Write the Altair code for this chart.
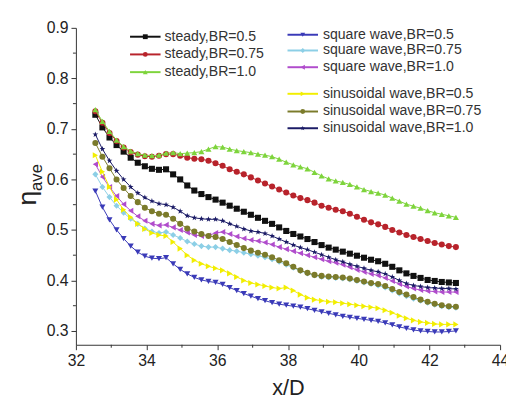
import altair as alt
import pandas as pd

# ---------------- data ----------------
X = [32.55, 32.75, 32.95, 33.15, 33.35, 33.55, 33.75, 33.95, 34.15, 34.35,
     34.55, 34.75, 34.95, 35.15, 35.35, 35.55, 35.75, 35.95, 36.15, 36.35,
     36.55, 36.75, 36.95, 37.15, 37.35, 37.55, 37.75, 37.95, 38.15, 38.35,
     38.55, 38.75, 38.95, 39.15, 39.35, 39.55, 39.75, 39.95, 40.15, 40.35,
     40.55, 40.75, 40.95, 41.15, 41.35, 41.55, 41.75, 41.95, 42.15, 42.35,
     42.55, 42.75]

steady05 = [0.728, 0.703, 0.683, 0.668, 0.655, 0.643, 0.633, 0.626, 0.621, 0.619,
            0.620, 0.610, 0.600, 0.588, 0.578, 0.571, 0.565, 0.560, 0.554, 0.548,
            0.542, 0.536, 0.530, 0.524, 0.518, 0.512, 0.505, 0.498, 0.492, 0.487,
            0.482, 0.476, 0.470, 0.465, 0.461, 0.457, 0.453, 0.449, 0.445, 0.441,
            0.438, 0.433, 0.427, 0.420, 0.414, 0.409, 0.405, 0.401, 0.399, 0.397,
            0.396, 0.395]
steady075 = [0.735, 0.712, 0.692, 0.676, 0.663, 0.654, 0.649, 0.646, 0.645, 0.647,
             0.650, 0.650, 0.647, 0.643, 0.641, 0.640, 0.637, 0.632, 0.627, 0.620,
             0.615, 0.610, 0.604, 0.598, 0.592, 0.586, 0.580, 0.574, 0.568, 0.563,
             0.559, 0.554, 0.548, 0.544, 0.540, 0.537, 0.532, 0.526, 0.520, 0.515,
             0.511, 0.506, 0.500, 0.495, 0.490, 0.486, 0.482, 0.478, 0.474, 0.471,
             0.468, 0.466]
steady10 = [0.738, 0.715, 0.695, 0.678, 0.665, 0.656, 0.651, 0.648, 0.647, 0.648,
            0.652, 0.653, 0.651, 0.652, 0.653, 0.655, 0.660, 0.665, 0.664, 0.660,
            0.657, 0.655, 0.653, 0.650, 0.648, 0.645, 0.640, 0.634, 0.629, 0.625,
            0.621, 0.614, 0.607, 0.601, 0.597, 0.594, 0.590, 0.585, 0.580, 0.576,
            0.573, 0.569, 0.563, 0.557, 0.551, 0.547, 0.543, 0.538, 0.534, 0.531,
            0.528, 0.525]
square05 = [0.577, 0.545, 0.520, 0.500, 0.483, 0.468, 0.456, 0.448, 0.444, 0.443,
            0.445, 0.433, 0.422, 0.413, 0.406, 0.401, 0.398, 0.396, 0.392, 0.386,
            0.380, 0.374, 0.369, 0.364, 0.360, 0.356, 0.353, 0.351, 0.349, 0.347,
            0.344, 0.341, 0.338, 0.335, 0.332, 0.329, 0.327, 0.325, 0.323, 0.321,
            0.319, 0.316, 0.312, 0.308, 0.305, 0.302, 0.300, 0.299, 0.298, 0.298,
            0.299, 0.300]
square075 = [0.610, 0.585, 0.565, 0.548, 0.534, 0.522, 0.512, 0.503, 0.497, 0.494,
             0.496, 0.490, 0.484, 0.477, 0.472, 0.468, 0.466, 0.466, 0.463, 0.460,
             0.458, 0.455, 0.452, 0.449, 0.446, 0.442, 0.437, 0.431, 0.425, 0.419,
             0.414, 0.410, 0.407, 0.406, 0.405, 0.404, 0.402, 0.399, 0.396, 0.393,
             0.390, 0.386, 0.380, 0.374, 0.369, 0.364, 0.360, 0.356, 0.352, 0.349,
             0.347, 0.346]
square10 = [0.630, 0.605, 0.585, 0.567, 0.551, 0.538, 0.527, 0.518, 0.512, 0.509,
            0.510, 0.505, 0.500, 0.495, 0.490, 0.488, 0.489, 0.494, 0.496, 0.492,
            0.487, 0.483, 0.480, 0.478, 0.475, 0.471, 0.466, 0.462, 0.458, 0.454,
            0.450, 0.446, 0.442, 0.438, 0.435, 0.431, 0.426, 0.421, 0.417, 0.413,
            0.410, 0.405, 0.399, 0.393, 0.388, 0.384, 0.381, 0.379, 0.378, 0.377,
            0.377, 0.377]
sin05 = [0.648, 0.615, 0.585, 0.560, 0.540, 0.525, 0.512, 0.502, 0.494, 0.490,
         0.488, 0.476, 0.463, 0.450, 0.440, 0.433, 0.428, 0.424, 0.420, 0.414,
         0.407, 0.400, 0.395, 0.392, 0.389, 0.386, 0.384, 0.386, 0.380, 0.372,
         0.366, 0.362, 0.360, 0.358, 0.357, 0.355, 0.353, 0.351, 0.349, 0.347,
         0.345, 0.341, 0.336, 0.330, 0.325, 0.321, 0.318, 0.316, 0.314, 0.313,
         0.313, 0.313]
sin075 = [0.672, 0.645, 0.622, 0.600, 0.583, 0.567, 0.555, 0.544, 0.537, 0.532,
          0.530, 0.522, 0.512, 0.503, 0.497, 0.492, 0.488, 0.486, 0.482, 0.476,
          0.470, 0.464, 0.459, 0.455, 0.451, 0.446, 0.440, 0.434, 0.427, 0.420,
          0.415, 0.411, 0.409, 0.408, 0.407, 0.406, 0.404, 0.401, 0.398, 0.395,
          0.393, 0.389, 0.383, 0.377, 0.372, 0.367, 0.362, 0.358, 0.354, 0.351,
          0.349, 0.348]
sin10 = [0.689, 0.660, 0.637, 0.617, 0.600, 0.585, 0.573, 0.564, 0.557, 0.552,
         0.550, 0.545, 0.537, 0.528, 0.524, 0.522, 0.521, 0.521, 0.518, 0.512,
         0.507, 0.502, 0.498, 0.496, 0.493, 0.488, 0.482, 0.476, 0.470, 0.465,
         0.461, 0.456, 0.451, 0.446, 0.441, 0.437, 0.432, 0.428, 0.424, 0.420,
         0.417, 0.413, 0.407, 0.400, 0.394, 0.390, 0.388, 0.386, 0.385, 0.384,
         0.384, 0.383]

labels = ["steady,BR=0.5", "steady,BR=0.75", "steady,BR=1.0",
          "square wave,BR=0.5", "square wave,BR=0.75", "square wave,BR=1.0",
          "sinusoidal wave,BR=0.5", "sinusoidal wave,BR=0.75", "sinusoidal wave,BR=1.0"]
values = [steady05, steady075, steady10, square05, square075, square10, sin05, sin075, sin10]

x_major = [32, 34, 36, 38, 40, 42, 44]
x_minor = [33, 35, 37, 39, 41, 43]
y_major = [0.3, 0.4, 0.5, 0.6, 0.7, 0.8, 0.9]
y_minor = [0.35, 0.45, 0.55, 0.65, 0.75, 0.85]

# ---------------- style ----------------
STAR = "M0,-1L0.24,-0.33L0.95,-0.31L0.38,0.12L0.59,0.81L0,0.4L-0.59,0.81L-0.38,0.12L-0.95,-0.31L-0.24,-0.33Z"
colors = ["#111111", "#b8232b", "#7ed43c", "#3a3ab8", "#8ccfe6", "#b04ccc",
          "#f2ee00", "#7b7b2b", "#1b1b66"]
shapes = ["square", "circle", "triangle-up", "triangle-down", "diamond",
          "triangle-left", "triangle-right", "circle", STAR]

W, H = 431, 322
FONT = "Liberation Sans"
AX = "#333333"

xscale = alt.Scale(domain=[32, 44], nice=False, zero=False)
yscale = alt.Scale(domain=[0.2727, 0.9], nice=False, zero=False)
xaxis = alt.Axis(values=x_major, title="x/D", grid=False, tickSize=5, tickColor=AX,
                 domainColor=AX, labelFontSize=16, labelFont=FONT, labelColor="#222",
                 titleFont=FONT, titleFontSize=22, titleFontWeight="normal",
                 titleColor="#222", titlePadding=10, format="d", labelPadding=3,
                 labelOverlap=False, labelFlush=False)
yaxis = alt.Axis(values=y_major, title=None, grid=False, tickSize=5, tickColor=AX,
                 domainColor=AX, labelFontSize=16, labelFont=FONT, labelColor="#222",
                 format=".1f", labelPadding=3, labelOverlap=False, labelFlush=False)

XE = alt.X("x:Q", scale=xscale, axis=xaxis)
YE = alt.Y("y:Q", scale=yscale, axis=yaxis)

layers = []

# minor ticks
xm = pd.DataFrame({"x": x_minor})
layers.append(alt.Chart(xm).mark_rule(color=AX, strokeWidth=1).encode(
    x=XE, y=alt.value(H), y2=alt.value(H + 3)))
ym = pd.DataFrame({"y": y_minor})
layers.append(alt.Chart(ym).mark_rule(color=AX, strokeWidth=1).encode(
    y=YE, x=alt.value(0), x2=alt.value(-3)))

# series
for lab, vals, c, s in zip(labels, values, colors, shapes):
    df = pd.DataFrame({"x": X, "y": vals, "series": lab})
    base = alt.Chart(df).encode(x=XE, y=YE)
    layers.append(base.mark_line(color=c, strokeWidth=1))
    layers.append(base.mark_point(shape=s, color=c, filled=True, opacity=1, size=38))

# legend (layout positions in plot pixels)
one = pd.DataFrame({"a": [0]})
col1 = dict(x1=55, x2=86, tx=90, rows=[9, 27, 45])
col2 = dict(x1=215, x2=246, tx=251, rows=[7, 23, 40, 67, 85, 102])
entries = [(col1, i, i) for i in range(3)] + [(col2, i, i + 3) for i in range(6)]
for col, r, k in entries:
    yy = col["rows"][r]
    xc = (col["x1"] + col["x2"]) / 2
    layers.append(alt.Chart(one).mark_rule(color=colors[k], strokeWidth=2).encode(
        x=alt.value(col["x1"]), x2=alt.value(col["x2"]), y=alt.value(yy)))
    layers.append(alt.Chart(one).mark_point(shape=shapes[k], color=colors[k], filled=True,
                                            opacity=1, size=24).encode(
        x=alt.value(xc), y=alt.value(yy)))
    layers.append(alt.Chart(one).mark_text(align="left", baseline="middle", font=FONT,
                                           fontSize=14.3, color="#333").encode(
        x=alt.value(col["tx"]), y=alt.value(yy), text=alt.value(labels[k])))

# y title: eta with subscript "ave"
layers.append(alt.Chart(one).mark_text(angle=270, font=FONT, fontSize=27, color="#222",
                                       align="center", baseline="middle").encode(
    x=alt.value(-49), y=alt.value(173), text=alt.value("η")))
layers.append(alt.Chart(one).mark_text(angle=270, font=FONT, fontSize=17, color="#222",
                                       align="center", baseline="middle").encode(
    x=alt.value(-39), y=alt.value(152), text=alt.value("ave")))

chart = alt.layer(*layers).properties(
    width=W, height=H,
    autosize=alt.AutoSizeParams(type="none"),
    padding={"left": 69, "top": 17, "right": 6, "bottom": 56},
).configure_view(stroke=None)

chart.save("out.html", embed_options={"renderer": "svg", "actions": False})
